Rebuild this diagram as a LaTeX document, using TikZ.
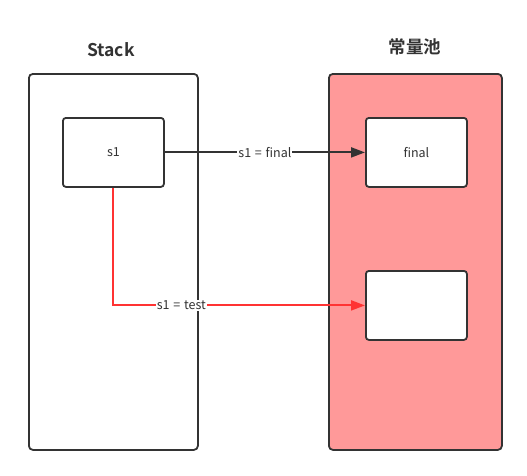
\documentclass[tikz,border=0pt]{standalone}
\usepackage{fontspec}
\setmainfont{Noto Sans CJK SC}[BoldFont={Noto Sans CJK SC Bold}]
\usetikzlibrary{arrows.meta}
\definecolor{pool}{HTML}{FF9999}
\definecolor{ink}{HTML}{333333}
\definecolor{redline}{HTML}{FF3333}
\tikzset{
  container/.style={draw=ink, line width=1.8pt, rounded corners=4pt, anchor=north west, inner sep=0pt},
  cell/.style={draw=ink, line width=1.8pt, rounded corners=3pt, fill=white, anchor=north west, inner sep=0pt, minimum width=101pt, minimum height=69pt},
  celltext/.style={font=\fontsize{12.5}{14}\selectfont, text=ink},
  title/.style={font=\fontsize{17.5}{20}\selectfont\bfseries, text=ink},
  conn/.style={line width=2pt, -{Triangle[length=14pt,width=10pt]}},
  lbl/.style={fill=white, inner sep=1pt, font=\fontsize{12.5}{14}\selectfont, text=ink},
}
\begin{document}
\begin{tikzpicture}[x=1pt,y=-1pt]
\useasboundingbox (0,0) rectangle (527,475);
\node[container, minimum width=169pt, minimum height=376pt] (stack) at (28,73) {};
\node[container, fill=pool, minimum width=173pt, minimum height=376pt] (pool) at (328,73) {};
\node[title] (stacklbl) at (111,50) {Stack};
\node[title] (poollbl) at (415,47) {常量池};
\node[cell, celltext] (s1) at (62,117) {s1};
\node[cell, celltext] (final) at (365,117) {final};
\node[cell] (empty) at (365,270) {};
\draw[conn, draw=ink, color=ink] (s1.east) -- node[lbl] {s1\hspace{0.3em}=\hspace{0.3em}final} (final.west);
\coordinate (bend) at (s1.south |- empty.west);
\draw[conn, color=redline] (s1.south) -- (bend) -- node[lbl, pos=0.27] {s1\hspace{0.3em}=\hspace{0.3em}test} (empty.west);
\end{tikzpicture}
\end{document}
